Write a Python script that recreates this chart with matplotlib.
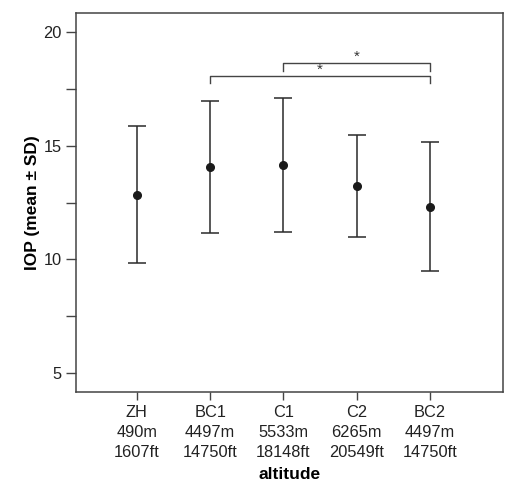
import numpy as np
import matplotlib
matplotlib.use("Agg")
import matplotlib.pyplot as plt

plt.rcParams['font.family'] = ['Liberation Sans', 'DejaVu Sans']

# Daten: IOP Mittelwert und SD pro Hoehenstufe
groups = ["ZH\n490m\n1607ft", "BC1\n4497m\n14750ft", "C1\n5533m\n18148ft",
          "C2\n6265m\n20549ft", "BC2\n4497m\n14750ft"]
means = [12.86, 14.07, 14.17, 13.23, 12.32]
sds = [3.02, 2.92, 2.95, 2.26, 2.84]

# Signifikanz-Klammern (von, bis, hoehe)
brackets = [(2, 5, 18.06), (3, 5, 18.63)]

x = np.arange(1, len(groups) + 1)

fig = plt.figure(figsize=(5.24, 4.9), dpi=100)
ax = fig.add_axes([76/524, 1 - 392.3/490, (503.3-76)/524, (392.3-13.3)/490])

ax.errorbar(x, means, yerr=sds, fmt='o', color='#1a1a1a', ecolor='#2a2a2a',
            markersize=5.5, elinewidth=1.1, capsize=6.5, capthick=1.1)

for a, b, h in brackets:
    ax.plot([a, a, b, b], [h - 0.31, h, h, h - 0.31], color='#444444', lw=1)
    ax.text((a + b) / 2, h + 0.28, '*', ha='center', va='center', fontsize=11, color='#333333')

ax.set_xlim(0.17, 6.0)
ax.set_ylim(4.15, 20.84)
ax.set_xticks(x)
ax.set_xticklabels(groups, fontsize=11.8, linespacing=1.42, color='#222222')
ax.set_yticks([5, 10, 15, 20])
ax.set_yticks([7.5, 12.5, 17.5], minor=True)
ax.tick_params(axis='y', labelsize=11.8, length=7, width=1, colors='#444444', labelcolor='#222222')
ax.tick_params(axis='y', which='minor', length=7, width=1, colors='#444444')
ax.tick_params(axis='x', length=6, width=1, colors='#444444', labelcolor='#222222', pad=3)

for s in ax.spines.values():
    s.set_color('#444444')
    s.set_linewidth(1.1)

ax.set_xlabel("altitude", fontsize=12.5, fontweight='bold', labelpad=5)
ax.set_ylabel("IOP (mean \u00b1 SD)", fontsize=12.5, fontweight='bold', labelpad=2)

fig.savefig("out.png", dpi=100)
